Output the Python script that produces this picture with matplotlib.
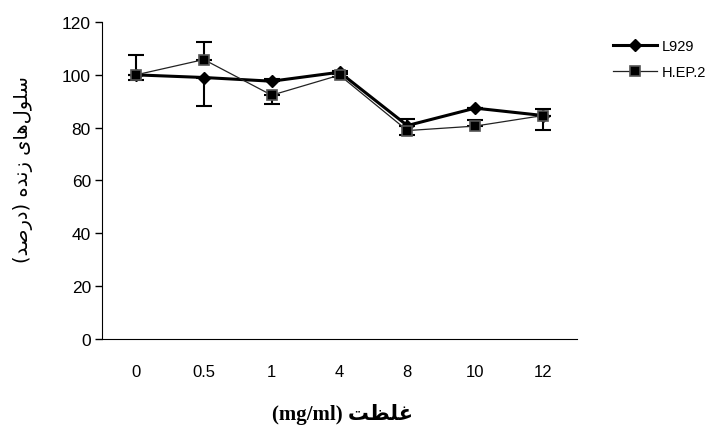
import matplotlib
matplotlib.use("Agg")
import matplotlib.pyplot as plt
import numpy as np

# concentrations (mg/ml) and viability (%)
categories = ["0", "0.5", "1", "4", "8", "10", "12"]
l929 = [100, 99.0, 97.6, 101.0, 80.8, 87.4, 84.6]
hep2 = [100, 105.8, 92.3, 99.9, 78.9, 80.6, 84.6]

# error bars (lower, upper)
l929_err_lo = [1.9, 10.9, 0.0, 0.5, 0.0, 0.0, 0.0]
l929_err_hi = [0.0, 0.0, 1.0, 0.5, 0.0, 0.0, 0.0]
hep2_err_lo = [0.0, 0.0, 3.3, 0.8, 1.5, 0.0, 5.4]
hep2_err_hi = [7.4, 6.7, 0.0, 0.8, 4.2, 2.4, 2.5]

yticks = [0, 20, 40, 60, 80, 100, 120]

# Persian labels, pre-shaped (presentation forms, visual order)
ylabel = "(\uFEAA\uFEBB\uFEAD\uFEA9) \uFEE9\uFEAA\uFEE7\uFEAF \uFEEF\uFE8E\uFEEB\uFEDD\uFEEE\uFEE0\uFEB3"
xlabel = "(mg/ml) \uFE96\uFEC8\uFEE0\uFECF"

x = np.arange(len(categories)) + 0.5

fig = plt.figure(figsize=(7.14, 4.27), dpi=100)
ax = fig.add_axes([0.143, 0.204, 0.665, 0.742])

ax.errorbar(x, l929, yerr=[l929_err_lo, l929_err_hi], fmt="none",
            ecolor="black", elinewidth=1.5, capsize=5.5, capthick=1.5, zorder=2)
ax.errorbar(x, hep2, yerr=[hep2_err_lo, hep2_err_hi], fmt="none",
            ecolor="black", elinewidth=1.5, capsize=5.5, capthick=1.5, zorder=2)

ax.plot(x, l929, color="black", lw=2.2, marker="D", markersize=6,
        markerfacecolor="black", markeredgecolor="black", label="L929", zorder=3)
ax.plot(x, hep2, color="#222222", lw=0.9, marker="s", markersize=7,
        markerfacecolor="black", markeredgecolor="#555555", markeredgewidth=1.2,
        label="H.EP.2", zorder=4)

ax.set_xlim(0, len(categories))
ax.set_ylim(0, 120)
ax.set_yticks(yticks)
ax.set_xticks(x)
ax.set_xticklabels(categories)
ax.spines["top"].set_visible(False)
ax.spines["right"].set_visible(False)
ax.tick_params(axis="x", length=0, pad=18, labelsize=12)
ax.tick_params(axis="y", length=5, width=1, direction="out", pad=3, labelsize=12.5)
for lab in ax.get_xticklabels() + ax.get_yticklabels():
    lab.set_family("Liberation Sans")

fig.text(0.032, 0.604, ylabel, rotation=90, ha="center", va="center",
         fontsize=14, family=["DejaVu Sans"])
fig.text(0.48, 0.03, xlabel, ha="center", va="center", fontsize=15,
         fontweight="bold", family=["Liberation Serif", "DejaVu Sans"])

leg = ax.legend(loc="upper left", bbox_to_anchor=(0.84, 0.937),
                bbox_transform=fig.transFigure, frameon=False,
                handlelength=3.0, handletextpad=0.35, labelspacing=0.8,
                prop={"family": "Liberation Sans", "size": 10.5})

fig.savefig("out.png", dpi=100)
